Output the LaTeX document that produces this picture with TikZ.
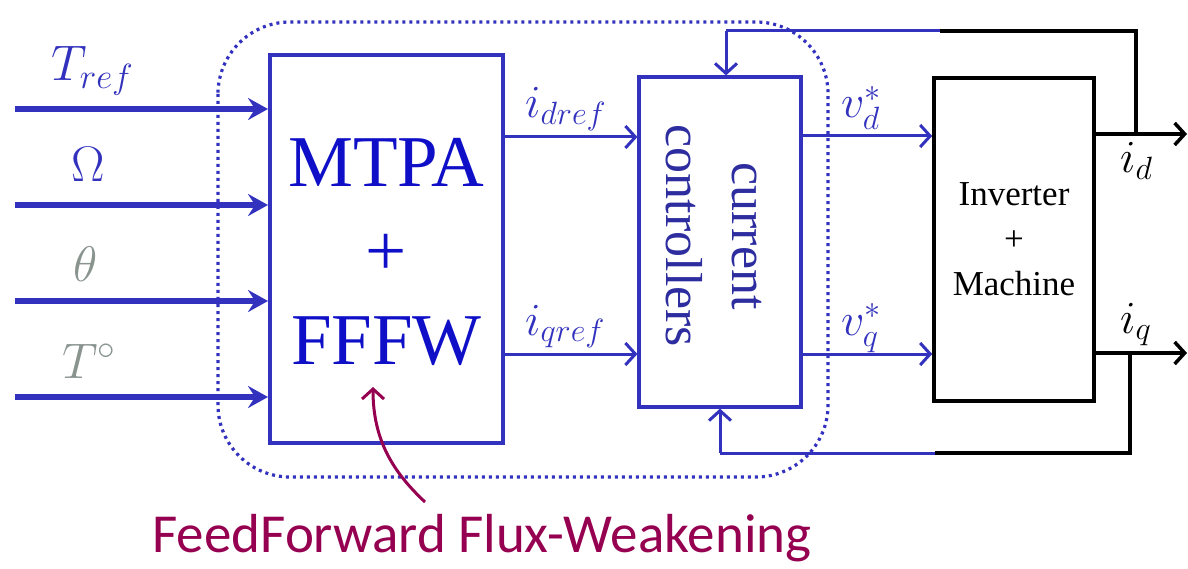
\RequirePackage{fix-cm}
\documentclass[tikz,border=0pt]{standalone}
\usepackage{fontspec}
\setmainfont{Liberation Serif}
\newfontfamily\blockfont{Liberation Serif}
\newfontfamily\notefont{Carlito}
\usetikzlibrary{arrows.meta}

\definecolor{lineblue}{RGB}{50,50,190}
\definecolor{textblue}{RGB}{15,15,200}
\definecolor{ccblue}{RGB}{45,45,160}
\definecolor{sensgray}{RGB}{138,148,143}
\definecolor{notemaroon}{RGB}{150,0,80}

\begin{document}
\begin{tikzpicture}[x=1pt,y=-1pt,
  block/.style={draw, line width=4pt, rectangle, inner sep=0pt},
  thickin/.style={line width=5.5pt, lineblue, -{Stealth[length=20pt,width=22pt,inset=7pt]}},
  sig/.style={line width=3pt, lineblue, -{Straight Barb[length=10pt,width=22pt]}},
  outsig/.style={line width=3.5pt, black, -{Straight Barb[length=10pt,width=22pt]}},
  fbline/.style={line width=3pt, lineblue},
  fbblack/.style={line width=3.5pt, black},
  biglabel/.style={font=\fontsize{50}{54}\selectfont, inner sep=0pt},
  siglabel/.style={font=\fontsize{46}{50}\selectfont, inner sep=0pt, anchor=base west},
]
\useasboundingbox (0,0) rectangle (1188,569);

% control section enclosure
\draw[lineblue, line width=3.2pt, dash pattern=on 3pt off 4pt, rounded corners=72pt]
  (218,22) rectangle (828,477);

% blocks
\node[block, lineblue, minimum width=233pt, minimum height=388pt] (mtpa) at (386.5,249) {};
\node[textblue, align=center, font=\blockfont\fontsize{73}{89}\selectfont] at (386.5,252) {MTPA\\+\\FFFW};

\node[block, lineblue, line width=3.2pt, minimum width=162pt, minimum height=330pt] (cc) at (720,242) {};
\node[ccblue, rotate=-90, align=center, font=\blockfont\fontsize{52}{66}\selectfont] at (714,236) {current\\controllers};

\node[block, black, line width=3.6pt, minimum width=160pt, minimum height=323pt, align=center,
      font=\blockfont\fontsize{35}{45}\selectfont] (inv) at (1014,239.5) {Inverter\\+\\Machine};

% reference inputs
\coordinate (in1) at (15,109);
\coordinate (in2) at (15,205);
\coordinate (in3) at (15,301);
\coordinate (in4) at (15,397);
\foreach \k in {1,...,4} {
  \draw[thickin] (in\k) -- (in\k -| mtpa.west);
}
\node[biglabel, lineblue, anchor=base west] (lt) at (51,81) {$T_{ref}$};
\node[biglabel, lineblue, anchor=base] (lo) at (88,182) {$\Omega$};
\node[biglabel, sensgray, anchor=base] (lth) at (86,282) {$\theta$};
\node[biglabel, sensgray, anchor=base west] (ltt) at (62,378) {$T^{\circ}$};

% current references
\coordinate (dref) at (503,137);
\coordinate (qref) at (503,354);
\draw[sig] (dref) -- (dref -| cc.west);
\draw[sig] (qref) -- (qref -| cc.west);
\node[siglabel, lineblue] (lid) at (525,118) {$i_{dref}$};
\node[siglabel, lineblue] (liq) at (525,335) {$i_{qref}$};

% voltage references
\coordinate (vd) at (801,136);
\coordinate (vq) at (801,354);
\draw[sig] (vd) -- (vd -| inv.west);
\draw[sig] (vq) -- (vq -| inv.west);
\node[siglabel, lineblue] (lvd) at (841,118) {$v_d^*$};
\node[siglabel, lineblue] (lvq) at (841,335) {$v_q^*$};

% measured currents
\coordinate (od) at (1094,134);
\coordinate (oq) at (1094,353);
\coordinate (od end) at (1187,134);
\coordinate (oq end) at (1187,353);
\draw[outsig] (od) -- (od end);
\draw[outsig] (oq) -- (oq end);
\node[siglabel] (lcd) at (1120,173) {$i_d$};
\node[siglabel] (lcq) at (1120,333) {$i_q$};

% feedback paths
\coordinate (tapd) at (1136,134);
\coordinate (tapd up) at (1136,31);
\coordinate (fbd mid) at (940,31);
\coordinate (fbd turn) at (726,31);
\draw[fbblack] (tapd) -- (tapd up) -- (fbd mid);
\draw[fbline] (fbd mid) -- (fbd turn);
\draw[sig] (fbd turn) -- (fbd turn |- cc.north);

\coordinate (tapq) at (1130,353);
\coordinate (tapq down) at (1130,453);
\coordinate (fbq mid) at (935,453);
\coordinate (fbq turn) at (720,453);
\draw[fbblack] (tapq) -- (tapq down) -- (fbq mid);
\draw[fbline] (fbq mid) -- (fbq turn);
\draw[sig] (fbq turn) -- (fbq turn |- cc.south);

% annotation
\node[notemaroon, inner sep=0pt, font=\notefont\fontsize{55}{60}\selectfont] (note) at (482,538) {FeedForward Flux-Weakening};
\coordinate (note tail) at (425,502);
\coordinate (fw tip) at (373,387);
\draw[notemaroon, line width=3pt, -{Straight Barb[length=10pt,width=22pt]}]
  (note tail) .. controls (393,472) and (373,440) .. (fw tip);
\end{tikzpicture}
\end{document}
